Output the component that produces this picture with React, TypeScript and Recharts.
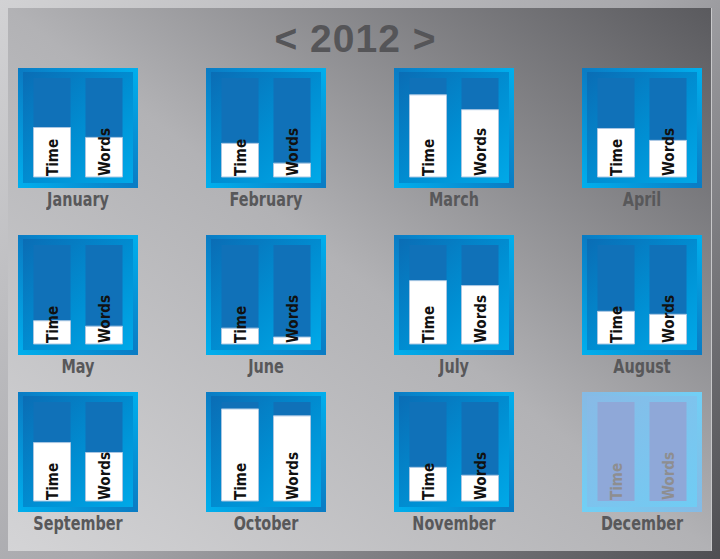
import { Bar, BarChart, LabelList, XAxis, YAxis } from "recharts";

const MONTHS = [
  "January", "February", "March", "April",
  "May", "June", "July", "August",
  "September", "October", "November", "December",
];
const SERIES = ["Time", "Words"];
// share of the monthly goal, in percent (December has no data yet)
const TIME = [50, 34, 83, 49, 23.5, 16, 64, 33, 59, 93, 34, null];
const WORDS = [40, 14, 68, 37, 18, 7, 59, 30, 49, 86, 26, null];
const GOAL = 100;
const YEAR = "2012";

const COL_X = [18, 206, 394, 582];
const ROW_Y = [68, 235, 392];
const PANEL = 120;

const LIVE = {
  outer: "linear-gradient(45deg, #00b0ee 0%, #0a7cc4 50%, #00b0ee 100%)",
  inner: "linear-gradient(135deg, #0a6db5 0%, #008fd3 55%, #00a9e8 100%)",
  track: "#1071b8",
  text: "#111111",
};
const FADED = {
  outer: "linear-gradient(45deg, #70d0f6 0%, #86bae4 50%, #70d0f6 100%)",
  inner: "linear-gradient(135deg, #88bae6 0%, #7cc4ee 55%, #6fcdf4 100%)",
  track: "#8fa8d8",
  text: "#8e8e90",
};

function SeriesTag({ x, y, width, height, value, color }: any) {
  const bx = x + width / 2 + 6;
  const by = y + height - 1;
  return (
    <text
      x={bx}
      y={by}
      transform={`rotate(-90 ${bx} ${by})`}
      fontFamily="'DejaVu Sans Condensed', 'DejaVu Sans', sans-serif"
      fontWeight={700}
      fontSize={15}
      fill={color}
    >
      {value}
    </text>
  );
}

function MonthPanel({ index }: { index: number }) {
  const left = COL_X[index % 4];
  const top = ROW_Y[Math.floor(index / 4)];
  const faded = TIME[index] == null;
  const look = faded ? FADED : LIVE;
  const data = SERIES.map((name, i) => ({
    name,
    goal: GOAL,
    value: i === 0 ? TIME[index] : WORDS[index],
  }));

  return (
    <>
      <div
        style={{
          position: "absolute",
          left,
          top,
          width: PANEL,
          height: PANEL,
          background: look.outer,
        }}
      >
        <div
          style={{
            position: "absolute",
            left: 5,
            top: 4,
            right: 5,
            bottom: 5,
            background: look.inner,
          }}
        />
        <div style={{ position: "absolute", left: 0, top: 0 }}>
          <BarChart
            width={PANEL}
            height={PANEL}
            data={data}
            margin={{ top: 10, right: 8.5, bottom: 11, left: 7.5 }}
          >
            <XAxis xAxisId="track" dataKey="name" hide />
            <XAxis xAxisId="fill" dataKey="name" hide />
            <XAxis xAxisId="tag" dataKey="name" hide />
            <YAxis hide domain={[0, GOAL]} />
            <Bar
              xAxisId="track"
              dataKey="goal"
              barSize={37}
              fill={look.track}
              isAnimationActive={false}
            />
            <Bar
              xAxisId="fill"
              dataKey="value"
              barSize={37}
              fill="#ffffff"
              stroke="#a9c6e2"
              strokeWidth={1}
              isAnimationActive={false}
            />
            <Bar
              xAxisId="tag"
              dataKey="goal"
              barSize={37}
              fill="none"
              isAnimationActive={false}
            >
              <LabelList
                dataKey="name"
                content={(p: any) => <SeriesTag {...p} color={look.text} />}
              />
            </Bar>
          </BarChart>
        </div>
      </div>
      <div
        style={{
          position: "absolute",
          left: left - 40,
          top: top + PANEL + 1,
          width: PANEL + 80,
          textAlign: "center",
          fontFamily: "'DejaVu Sans Condensed', 'DejaVu Sans', sans-serif",
          fontWeight: 700,
          fontSize: 20,
          lineHeight: "20px",
          transform: "scaleX(0.8)",
          color: "#58585a",
        }}
      >
        {MONTHS[index]}
      </div>
    </>
  );
}

export default function App() {
  return (
    <div
      style={{
        position: "relative",
        width: 720,
        height: 559,
        overflow: "hidden",
        background: "linear-gradient(135deg, #d2d2d4 0%, #a8a8ac 50%, #4e4e52 100%)",
      }}
    >
      <style>{"body{margin:0}"}</style>
      <div
        style={{
          position: "absolute",
          left: 8,
          top: 8,
          width: 703,
          height: 543,
          background: "linear-gradient(to top right, #d4d4d6 0%, #b2b2b5 50%, #5a5a5e 100%)",
          borderRight: "1px solid #c8c8ca",
        }}
      />
      <div
        style={{
          position: "absolute",
          left: 0,
          top: 19,
          width: 711,
          textAlign: "center",
          fontFamily: "'Liberation Sans', Arial, sans-serif",
          fontWeight: 700,
          fontSize: 39,
          lineHeight: "39px",
          letterSpacing: 1,
          color: "#555558",
        }}
      >
        {"< " + YEAR + " >"}
      </div>
      {MONTHS.map((m, i) => (
        <MonthPanel key={m} index={i} />
      ))}
    </div>
  );
}
